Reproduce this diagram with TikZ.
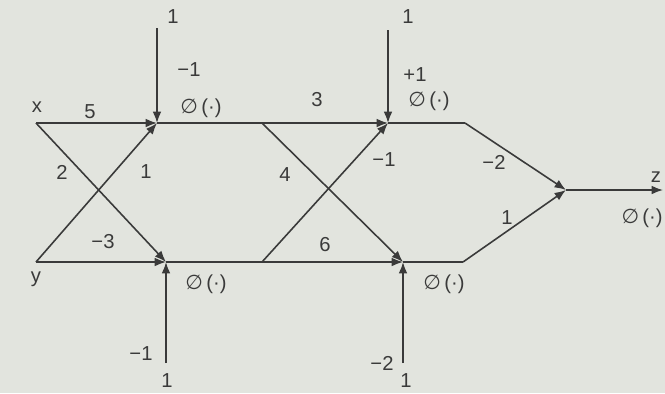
\documentclass[tikz,border=0pt]{standalone}
\usepackage{fontspec}
\setmainfont{Liberation Sans}
\newfontfamily\djv{DejaVu Sans}
\usetikzlibrary{arrows.meta}
\definecolor{bgc}{RGB}{226,228,222}
\definecolor{ink}{RGB}{58,58,58}
\newcommand{\phinode}{{\djv ∅}\,(·)}
\begin{document}
\begin{tikzpicture}[x=0.02cm,y=-0.02cm,
  wire/.style={draw=ink,line width=0.9pt},
  arr/.style={wire,-{Latex[length=6.5pt,width=5pt]}},
  lbl/.style={text=ink,font=\fontsize{11.5}{13}\selectfont,inner sep=0pt}]
\fill[bgc] (0,0) rectangle (665,393);
\useasboundingbox (0,0) rectangle (665,393);
% coordinates
\coordinate (x) at (36,123);
\coordinate (y) at (36,262);
\coordinate (n1) at (157,123);
\coordinate (n2) at (166,262);
\coordinate (a) at (262,123);
\coordinate (b) at (262,262);
\coordinate (n3) at (388,123);
\coordinate (n4) at (403,262);
\coordinate (c) at (465,123);
\coordinate (d) at (463,262);
\coordinate (z) at (566,190);
\coordinate (out) at (663,190);
\coordinate (t1) at (157,28);
\coordinate (t3) at (388,30);
\coordinate (b1) at (166,363);
\coordinate (b4) at (403,363);
% edges
\draw[arr] (x) -- (n1);
\draw[arr] (t1) -- (n1);
\draw[arr] (y) -- (n1);
\draw[arr] (x) -- (n2);
\draw[arr] (y) -- (n2);
\draw[arr] (b1) -- (n2);
\draw[wire] (n1) -- (a);
\draw[wire] (n2) -- (b);
\draw[arr] (a) -- (n3);
\draw[arr] (b) -- (n3);
\draw[arr] (t3) -- (n3);
\draw[arr] (a) -- (n4);
\draw[arr] (b) -- (n4);
\draw[arr] (b4) -- (n4);
\draw[wire] (n3) -- (c);
\draw[wire] (n4) -- (d);
\draw[arr] (c) -- (z);
\draw[arr] (d) -- (z);
\draw[arr] (z) -- (out);
% labels
\node[lbl] (lx) at (37,107) {x};
\node[lbl] (ly) at (36,279) {y};
\node[lbl] (l5) at (90,112) {5};
\node[lbl] (l2) at (62,172) {2};
\node[lbl] (l1a) at (146,172) {1};
\node[lbl] (lm3) at (103,242) {−3};
\node[lbl] (lt1) at (173,17) {1};
\node[lbl] (lm1a) at (189,70) {−1};
\node[lbl] (p1) at (201,108) {\phinode};
\node[lbl] (p2) at (206,284) {\phinode};
\node[lbl] (lm1b) at (141,354) {−1};
\node[lbl] (lb1) at (167,381) {1};
\node[lbl] (l3) at (317,100) {3};
\node[lbl] (l4) at (285,175) {4};
\node[lbl] (l6) at (325,245) {6};
\node[lbl] (lm1c) at (384,160) {−1};
\node[lbl] (lt3) at (408,17) {1};
\node[lbl] (lp1) at (415,75) {+1};
\node[lbl] (p3) at (429,101) {\phinode};
\node[lbl] (p4) at (444,284) {\phinode};
\node[lbl] (lm2b) at (382,363) {−2};
\node[lbl] (lb4) at (406,381) {1};
\node[lbl] (lm2) at (494,162) {−2};
\node[lbl] (l1b) at (507,218) {1};
\node[lbl] (lz) at (656,177) {z};
\node[lbl,anchor=east] (pz) at (663,218) {\phinode};
\end{tikzpicture}
\end{document}
